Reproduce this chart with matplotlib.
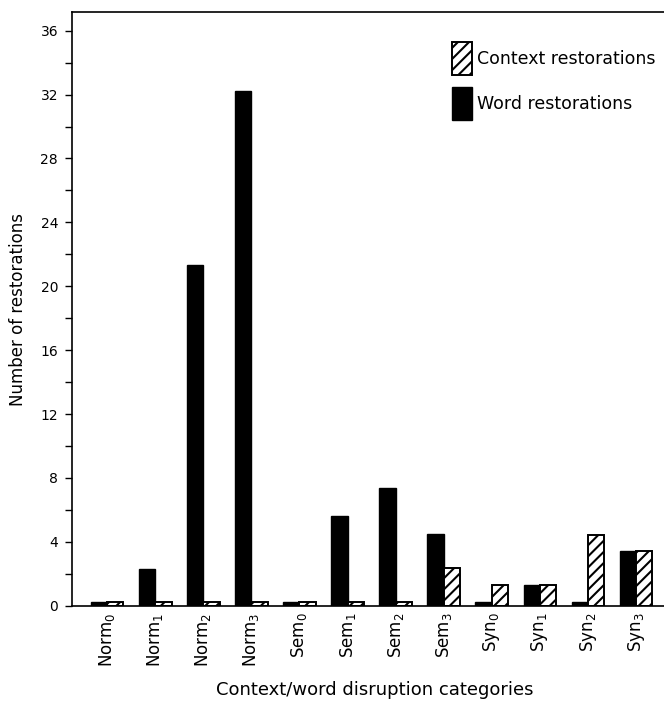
import matplotlib
matplotlib.use("Agg")
import matplotlib.pyplot as plt
import numpy as np
from matplotlib.patches import Patch
from matplotlib.ticker import MultipleLocator

categories = ["Norm$_0$", "Norm$_1$", "Norm$_2$", "Norm$_3$",
              "Sem$_0$", "Sem$_1$", "Sem$_2$", "Sem$_3$",
              "Syn$_0$", "Syn$_1$", "Syn$_2$", "Syn$_3$"]
word_restorations = [0.25, 2.3, 21.3, 32.25, 0.25, 5.6, 7.4, 4.5, 0.25, 1.3, 0.25, 3.45]
context_restorations = [0.25, 0.25, 0.25, 0.25, 0.25, 0.25, 0.25, 2.35, 1.3, 1.3, 4.45, 3.45]

plt.rcParams["font.family"] = ["DejaVu Sans"]
plt.rcParams["mathtext.default"] = "regular"
plt.rcParams["hatch.linewidth"] = 1.5

W, H = 664, 703
fig = plt.figure(figsize=(W / 100, H / 100), dpi=100, facecolor="white")
ax = fig.add_axes([72 / W, 1 - 605.7 / H, (W - 72) / W, (605.7 - 12) / H])

x = np.arange(len(categories))
width = 0.34
ax.bar(x - width, word_restorations, width, align="edge",
       color="black", edgecolor="black", linewidth=1)
ax.bar(x, context_restorations, width, align="edge",
       color="white", edgecolor="black", linewidth=1.4, hatch="///")

ax.set_xlim(-0.73, 11.58)
ax.set_ylim(0, 37.17)
ax.yaxis.set_major_locator(MultipleLocator(4))
ax.yaxis.set_minor_locator(MultipleLocator(2))
ax.tick_params(axis="y", which="both", direction="out", length=5, width=1,
               labelsize=10, pad=5)
ax.tick_params(axis="x", length=0, labelsize=12, pad=5)
ax.set_xticks(x)
ax.set_xticklabels(categories, rotation=90)

ax.spines["right"].set_visible(False)
for side in ("left", "top", "bottom"):
    ax.spines[side].set_linewidth(1.2)

fig.text(18 / W, 1 - 310 / H, "Number of restorations", rotation=90,
         ha="center", va="center", fontsize=12)
fig.text(375 / W, 1 - 690 / H, "Context/word disruption categories",
         ha="center", va="center", fontsize=13)

handles = [
    Patch(facecolor="white", edgecolor="black", linewidth=1.4, hatch="///",
          label="Context restorations"),
    Patch(facecolor="black", edgecolor="black", label="Word restorations"),
]
ax.legend(handles=handles, loc="upper left", bbox_to_anchor=(452 / W, 1 - 42 / H),
          bbox_transform=fig.transFigure, frameon=False, fontsize=12.5,
          handlelength=1.15, handleheight=2.55, handletextpad=0.29,
          labelspacing=0.69, borderpad=0, borderaxespad=0)

fig.savefig("out.png", dpi=100, facecolor="white")
